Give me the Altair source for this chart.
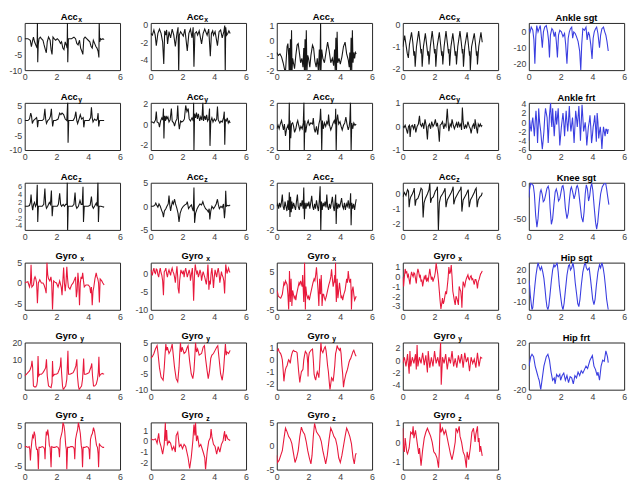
import altair as alt
import pandas as pd

# ---------------- data: (time s, value) ----------------
acc_x_1 = [(0,0),(0.2,0),(0.35,-0.5),(0.42,-2.5),(0.48,-1),(0.55,0.5),(0.62,-1),(0.7,-2),(0.78,-3),(0.8,5.5),(0.82,-7.5),(0.85,-2),(0.9,0),(0.98,0.5),(1.05,0),(1.15,-0.5),(1.22,-2),(1.3,-3.5),(1.36,-4.5),(1.42,-1),(1.5,0.5),(1.6,-0.5),(1.66,-3.5),(1.72,-5),(1.78,0.5),(1.85,0),(1.95,-0.5),(2.05,0),(2.15,-0.5),(2.25,-1.5),(2.32,-1),(2.4,-3),(2.47,-3.5),(2.55,-1),(2.62,-2),(2.67,-3),(2.69,5.5),(2.71,-7.5),(2.75,0),(2.85,0),(2.95,0),(3.1,0.5),(3.2,0),(3.28,-1.5),(3.36,-2),(3.45,-0.5),(3.52,-3),(3.6,-4),(3.66,-5),(3.72,0),(3.8,0.5),(3.9,0),(4.0,-0.5),(4.1,-1),(4.18,-2.5),(4.25,-3),(4.32,-0.5),(4.4,-1.5),(4.48,-2.5),(4.55,-3),(4.62,-4),(4.67,-6),(4.69,5.5),(4.72,-1),(4.78,0),(4.85,-0.3),(4.92,0),(5.0,-0.3)]
acc_x_2 = [(0,-1),(0.1,-1.2),(0.2,-0.6),(0.28,-1.2),(0.35,-2.4),(0.45,-1),(0.55,-0.5),(0.65,-1),(0.75,-2),(0.82,-4.5),(0.88,-0.7),(0.95,-1.2),(1.0,-0.6),(1.06,-2.2),(1.15,-0.8),(1.25,-1.5),(1.35,-0.5),(1.45,-1.2),(1.55,-2.5),(1.65,-1),(1.72,-0.3),(1.76,-5.5),(1.8,-1.2),(1.88,-0.8),(1.95,-1),(2.05,-1.3),(2.15,-0.5),(2.3,-3),(2.4,-1),(2.5,-0.5),(2.6,-1.5),(2.67,-0.3),(2.72,-4.8),(2.78,-1),(2.88,-0.8),(2.95,-1.2),(3.05,-0.7),(3.2,-2.2),(3.3,-1),(3.4,-0.5),(3.55,-1.2),(3.65,-0.5),(3.75,-3.6),(3.82,-1),(3.9,-0.7),(3.95,-1.2),(4.05,-0.8),(4.2,-2.4),(4.3,-0.8),(4.4,-0.6),(4.5,-1.5),(4.6,-0.8),(4.66,-0.1),(4.69,-5.5),(4.72,-0.3),(4.78,-1.2),(4.85,-1),(4.92,-0.7),(5.0,-1)]
acc_x_3 = [(0,-0.8),(0.1,-1),(0.2,-0.9),(0.3,-1.1),(0.4,-1.5),(0.5,-2),(0.55,-2.1),(0.6,-1.2),(0.65,-0.4),(0.7,-0.2),(0.75,-1),(0.78,-2.1),(0.8,-0.5),(0.83,-2.1),(0.86,0.1),(0.9,-2.1),(0.93,0.7),(0.96,-2.1),(1.0,-1.2),(1.05,-1.5),(1.12,-1.9),(1.2,-1.0),(1.28,-0.3),(1.35,-0.2),(1.42,-0.8),(1.5,-1.5),(1.58,-1.2),(1.65,-1.8),(1.7,-0.5),(1.74,-2.1),(1.78,0.1),(1.82,-2.1),(1.86,0.7),(1.9,-2.1),(1.95,-1),(2.0,-1.2),(2.08,-1.8),(2.15,-1),(2.25,-0.3),(2.32,-0.5),(2.4,-1.4),(2.48,-1.8),(2.55,-1.2),(2.62,-2.1),(2.68,-0.6),(2.72,-2.1),(2.76,1.3),(2.78,-2.1),(2.83,-0.6),(2.9,-1.2),(3.0,-1.5),(3.1,-0.8),(3.2,-0.1),(3.3,-0.7),(3.4,-1.5),(3.5,-1.2),(3.58,-1.7),(3.64,-0.6),(3.68,-2.1),(3.72,0.2),(3.76,-2.1),(3.8,0.6),(3.84,-1.5),(3.92,-1.2),(4.0,-1.6),(4.1,-1.1),(4.2,-0.4),(4.3,-0.1),(4.4,-0.9),(4.5,-1.3),(4.56,-1.8),(4.6,-0.8),(4.64,-2.1),(4.68,0.2),(4.72,-2.1),(4.76,0.7),(4.8,-1.5),(4.85,-0.8),(4.9,-1.2),(4.95,-0.8),(5.0,-0.9)]
acc_x_4 = [(0,-1),(0.12,-0.5),(0.2,-0.9),(0.28,-1.3),(0.35,-1.5),(0.42,-0.9),(0.55,-0.35),(0.63,-0.8),(0.7,-1.4),(0.74,-1.2),(0.78,-1.9),(0.86,-1.0),(1.0,-0.3),(1.08,-0.8),(1.15,-1.3),(1.18,-1.1),(1.22,-1.9),(1.3,-1.0),(1.42,-0.4),(1.5,-0.9),(1.58,-1.4),(1.61,-1.2),(1.65,-1.8),(1.73,-1.0),(1.85,-0.3),(1.93,-0.8),(2.0,-1.3),(2.04,-1.1),(2.08,-1.9),(2.16,-1.0),(2.3,-0.35),(2.38,-0.9),(2.45,-1.4),(2.48,-1.2),(2.52,-1.8),(2.6,-1.0),(2.72,-0.3),(2.8,-0.8),(2.88,-1.3),(2.91,-1.1),(2.95,-1.85),(3.03,-1.0),(3.15,-0.4),(3.23,-0.9),(3.3,-1.4),(3.34,-1.2),(3.38,-1.8),(3.46,-1.0),(3.6,-0.3),(3.68,-0.8),(3.75,-1.3),(3.78,-1.1),(3.82,-1.9),(3.9,-1.0),(4.05,-0.35),(4.13,-0.9),(4.2,-1.4),(4.22,-1.2),(4.25,-2.05),(4.33,-1.0),(4.5,-0.4),(4.58,-0.9),(4.64,-1.4),(4.67,-1.2),(4.7,-1.8),(4.78,-1.0),(4.92,-0.35),(5.0,-0.8)]
ankle_sgt = [(0,2),(0.08,0),(0.15,3),(0.25,1),(0.32,-5),(0.38,-20),(0.44,-3),(0.5,4),(0.58,0),(0.65,2),(0.72,4),(0.78,-2),(0.85,-10),(0.92,0),(1.0,3),(1.1,4),(1.18,0),(1.24,-5),(1.3,-16),(1.36,-2),(1.45,2),(1.52,1),(1.6,-3),(1.67,0),(1.73,-6),(1.8,-16),(1.87,-2),(1.95,1),(2.05,0),(2.15,-3),(2.25,-1),(2.32,-8),(2.4,-20),(2.48,-4),(2.55,0),(2.62,2),(2.7,3),(2.76,-4),(2.83,0),(2.92,-1),(3.0,-3),(3.1,-6),(3.2,-12),(3.27,-24),(3.33,-8),(3.4,2),(3.5,1),(3.6,3),(3.67,-5),(3.75,0),(3.82,-2),(3.9,-8),(3.98,-17),(4.05,-4),(4.12,0),(4.2,2),(4.27,3),(4.35,-1),(4.45,-10),(4.52,-2),(4.6,2),(4.7,3),(4.78,0),(4.85,-2),(4.92,-6),(5.0,-12)]

acc_y_1 = [(0,0),(0.2,0),(0.3,0.5),(0.38,2.5),(0.43,1.5),(0.48,-1),(0.55,0),(0.65,0.5),(0.75,1),(0.78,0),(0.81,-2.3),(0.86,0),(0.95,0),(1.1,0),(1.2,0.5),(1.27,4),(1.32,0.5),(1.37,-1),(1.45,0),(1.55,0.5),(1.62,1.5),(1.68,4),(1.72,0.5),(1.76,-2),(1.82,0),(1.95,0),(2.1,0.5),(2.2,2.5),(2.28,2),(2.35,2.5),(2.45,2),(2.55,0.5),(2.65,0),(2.71,7),(2.73,-7.5),(2.77,0),(2.9,0),(3.05,0),(3.15,1),(3.22,3),(3.28,0),(3.33,-1),(3.42,0.5),(3.5,2),(3.58,0.5),(3.68,1),(3.72,-2.3),(3.78,0),(3.9,0),(4.05,0),(4.15,1),(4.2,4.5),(4.25,1),(4.3,-0.5),(4.4,0.5),(4.5,0),(4.57,0.5),(4.62,2.5),(4.66,-2),(4.72,0),(4.85,0),(5.0,0)]
acc_y_2 = [(0,0.2),(0.1,0.2),(0.2,0.1),(0.3,0.4),(0.35,1.2),(0.4,0.2),(0.5,0.1),(0.55,-0.3),(0.62,0.3),(0.7,0.6),(0.76,0.4),(0.8,1.5),(0.83,-1.4),(0.87,0.8),(0.92,0.3),(0.97,0.8),(1.02,0.5),(1.08,0.7),(1.15,0.2),(1.22,0.4),(1.3,1.5),(1.35,0.3),(1.45,0.1),(1.5,-0.2),(1.58,0.3),(1.65,0.5),(1.7,1.8),(1.75,0.2),(1.8,-0.5),(1.88,0.3),(1.95,0.2),(2.05,0.3),(2.12,0.5),(2.2,1.8),(2.28,1.2),(2.36,1.5),(2.42,0.5),(2.5,0.3),(2.6,0.6),(2.68,0.3),(2.7,2.1),(2.72,-2.6),(2.76,1.0),(2.82,0.6),(2.88,1.1),(2.94,0.5),(3.0,1.0),(3.08,0.3),(3.15,0.7),(3.22,0.4),(3.28,2.1),(3.32,0.3),(3.4,0.8),(3.46,0.4),(3.52,0.9),(3.58,0.3),(3.65,0.5),(3.7,1.5),(3.73,-2.1),(3.78,0.3),(3.85,0.6),(3.92,0.2),(4.0,0.5),(4.08,0.3),(4.15,0.5),(4.2,1.7),(4.25,0.4),(4.35,0.1),(4.42,0.3),(4.5,0.2),(4.58,0.6),(4.63,1.2),(4.66,-2.0),(4.7,0.4),(4.76,0.3),(4.82,0.6),(4.88,0.1),(4.94,0.3),(5.0,0.1)]
acc_y_3 = [(0,-0.2),(0.08,0.1),(0.15,-0.2),(0.22,0.2),(0.3,0.5),(0.36,0.1),(0.42,-0.3),(0.48,0.2),(0.55,-0.8),(0.62,-0.2),(0.7,0.1),(0.76,-0.3),(0.79,2.1),(0.81,-2.1),(0.84,0.5),(0.88,-1),(0.93,0.2),(1.0,0.3),(1.06,0),(1.12,-0.5),(1.2,-0.2),(1.27,0.3),(1.32,0.5),(1.38,0.1),(1.45,-0.3),(1.52,0),(1.6,-0.2),(1.67,0.3),(1.71,2.1),(1.73,-2.1),(1.77,0.5),(1.82,-0.5),(1.9,0.2),(1.98,0.5),(2.05,0.1),(2.15,0.3),(2.25,0.2),(2.3,0.7),(2.36,-0.2),(2.42,-0.5),(2.5,0),(2.58,-0.7),(2.65,0.2),(2.72,0.6),(2.76,1.5),(2.8,0.2),(2.83,-2.1),(2.87,0.5),(2.93,-0.2),(3.0,0.3),(3.08,0),(3.15,0.4),(3.22,0.2),(3.26,1.0),(3.32,0.1),(3.4,-0.3),(3.48,0),(3.55,0.3),(3.62,0.5),(3.68,0.2),(3.71,1.5),(3.74,-2.1),(3.78,0.5),(3.83,1.0),(3.9,0.2),(3.98,0.4),(4.05,0),(4.12,-0.3),(4.2,0.1),(4.28,0.3),(4.35,0.8),(4.42,0.2),(4.5,-0.3),(4.56,0),(4.6,0.5),(4.64,2.1),(4.68,-2.1),(4.72,0.3),(4.78,-0.2),(4.85,0.3),(4.92,0.1),(5.0,0.2)]
acc_y_4 = [(0,0),(0.08,-0.05),(0.15,0.05),(0.22,-0.1),(0.3,-0.3),(0.36,0),(0.42,0.05),(0.46,-0.45),(0.52,0),(0.6,0.05),(0.68,-0.1),(0.75,0.1),(0.82,-0.25),(0.9,0),(0.98,0.1),(1.05,0.45),(1.1,0.1),(1.18,0),(1.25,0.15),(1.32,-0.1),(1.4,0.3),(1.48,0),(1.55,-0.55),(1.6,0),(1.68,0.1),(1.75,-0.1),(1.82,0.2),(1.9,0),(1.98,0.1),(2.05,0.3),(2.12,0),(2.18,0.15),(2.25,-0.2),(2.3,-0.65),(2.35,0.05),(2.42,0.1),(2.5,0.2),(2.58,-0.1),(2.65,0.1),(2.72,0),(2.8,0.75),(2.85,0.2),(2.9,-0.2),(2.98,0.1),(3.05,0),(3.1,0.3),(3.18,0.05),(3.25,-0.1),(3.3,0),(3.38,0.15),(3.45,-0.05),(3.5,0.2),(3.58,0),(3.65,0.1),(3.7,-0.15),(3.75,0.8),(3.8,0.2),(3.88,-0.1),(3.95,0.05),(4.02,-0.05),(4.1,0.2),(4.18,0),(4.25,-0.1),(4.3,-0.3),(4.38,0),(4.45,0.1),(4.52,-0.1),(4.55,0.3),(4.62,0),(4.7,-0.3),(4.75,0.1),(4.82,0),(4.88,0.1),(4.94,0),(5.0,0.05)]
ankle_frt = [(0,-4),(0.05,0.5),(0.1,-1),(0.15,-2),(0.2,0),(0.25,1),(0.3,-1),(0.35,-3),(0.4,0),(0.45,2.5),(0.5,0),(0.55,-4.5),(0.6,0),(0.62,3),(0.68,0),(0.75,-2),(0.8,-4),(0.85,-5.8),(0.9,-4),(0.95,-2),(1.0,1),(1.05,3),(1.1,2),(1.15,1),(1.22,-4.5),(1.3,1.5),(1.37,4.2),(1.42,0),(1.45,-1),(1.5,3),(1.55,0),(1.6,-3),(1.65,0),(1.7,2.5),(1.75,-0.5),(1.8,1),(1.85,3),(1.9,-1),(1.95,-5),(2.0,-3),(2.05,-1),(2.1,0.5),(2.15,2),(2.2,0),(2.25,-3),(2.3,0),(2.35,2.5),(2.4,0),(2.45,-2),(2.5,0.5),(2.55,3.5),(2.6,0),(2.65,-2),(2.7,-0.5),(2.75,1),(2.8,-1.5),(2.85,-4.5),(2.9,-1),(2.95,2.5),(3.0,1),(3.05,-1),(3.1,1),(3.15,3.5),(3.2,0),(3.25,-4),(3.3,0),(3.35,3.8),(3.4,1),(3.45,-2),(3.5,-1),(3.55,0),(3.6,-2),(3.65,-5),(3.7,-3),(3.75,-1),(3.8,0),(3.85,1.5),(3.9,-1),(3.95,-4.5),(4.0,-3),(4.05,-1),(4.1,0),(4.15,1.5),(4.2,-1),(4.25,-4.2),(4.3,2),(4.35,0),(4.4,-3.5),(4.45,-2),(4.5,-1),(4.55,-3),(4.6,-5.8),(4.65,-3),(4.7,-1),(4.75,-2),(4.8,-3),(4.85,-1.5),(4.9,-1.5),(4.95,-2.5),(5.0,-1.5)]

acc_z_1 = [(0,1),(0.2,1),(0.3,1.2),(0.36,2),(0.4,4),(0.45,1.5),(0.5,0),(0.56,1.5),(0.62,2),(0.68,1),(0.74,1.5),(0.79,6.5),(0.82,-3),(0.86,1),(0.95,1),(1.1,1),(1.2,1.5),(1.27,5.5),(1.32,1.5),(1.37,0.5),(1.45,1),(1.55,2),(1.62,1.5),(1.68,5),(1.73,-1.5),(1.78,1),(1.9,1),(2.05,1),(2.12,1.5),(2.2,4.3),(2.26,1.5),(2.32,1),(2.42,1.5),(2.5,1),(2.58,1.5),(2.65,1.5),(2.68,7.5),(2.7,-5.5),(2.74,1),(2.85,1),(3.0,1),(3.1,1.5),(3.17,4.5),(3.22,1.2),(3.28,0.5),(3.38,1),(3.48,2.5),(3.55,1.5),(3.62,1.5),(3.67,6),(3.7,-3),(3.75,1),(3.88,1),(4.0,1),(4.12,1.3),(4.2,3.5),(4.26,1),(4.32,0.5),(4.42,1.2),(4.5,1.8),(4.56,1),(4.61,7.5),(4.64,-3),(4.68,1),(4.8,1),(4.9,0.9),(5.0,0.8)]
acc_z_2 = [(0,0),(0.15,0),(0.25,0.2),(0.32,0.7),(0.38,0.2),(0.45,-0.2),(0.52,0.5),(0.6,0),(0.68,-0.8),(0.76,-1.5),(0.8,-2.3),(0.86,-1),(0.95,-0.5),(1.02,0),(1.1,0.5),(1.15,2.3),(1.2,0.3),(1.25,-1),(1.3,0),(1.36,1),(1.42,0.5),(1.5,1.5),(1.56,0.5),(1.65,-0.5),(1.72,-1.5),(1.78,-3.3),(1.85,-1.5),(1.95,-0.5),(2.05,0),(2.15,0.3),(2.25,0.5),(2.3,1),(2.38,-0.5),(2.48,0),(2.56,0.3),(2.62,-0.5),(2.68,-1),(2.72,4),(2.76,-3.5),(2.82,-1.5),(2.92,-0.5),(3.0,0),(3.1,0.5),(3.2,0.3),(3.28,1),(3.35,0.2),(3.45,-0.5),(3.55,-0.8),(3.62,-1.2),(3.68,-0.5),(3.72,-2.8),(3.78,-1),(3.85,0),(3.95,-0.5),(4.05,0),(4.12,0.5),(4.2,1.5),(4.26,0.3),(4.32,-0.5),(4.42,0),(4.5,-0.3),(4.58,0.5),(4.64,-2.5),(4.68,-1),(4.72,3.3),(4.76,0),(4.85,0.2),(4.92,0.1),(5.0,0.3)]
acc_z_3 = [(0,0),(0.06,0.2),(0.12,-0.2),(0.18,0.3),(0.24,-0.1),(0.3,0.4),(0.35,1),(0.4,0),(0.46,-0.3),(0.52,0.4),(0.58,0),(0.64,-0.4),(0.7,0.5),(0.75,-0.3),(0.79,1.2),(0.83,-0.9),(0.87,0.8),(0.91,-0.5),(0.95,0.4),(1.0,-0.2),(1.06,0.3),(1.12,0),(1.18,-0.3),(1.24,0.4),(1.3,1),(1.35,0),(1.42,-0.3),(1.48,0.3),(1.54,0),(1.6,0.5),(1.66,-0.2),(1.7,1.6),(1.74,-1.1),(1.78,0.3),(1.84,-0.2),(1.9,0.3),(1.96,0),(2.02,0.4),(2.08,-0.2),(2.14,0.3),(2.2,0.9),(2.26,0),(2.32,-0.3),(2.38,0.2),(2.44,-0.2),(2.5,0.5),(2.56,0),(2.62,-0.4),(2.68,0.5),(2.73,1.7),(2.77,-2.1),(2.81,0.4),(2.86,-0.3),(2.92,0.3),(2.98,0),(3.04,0.4),(3.1,-0.1),(3.15,1),(3.2,0),(3.26,-0.3),(3.32,0.2),(3.38,-0.2),(3.44,0.3),(3.5,0.8),(3.56,0),(3.62,-0.4),(3.67,0.4),(3.71,1),(3.74,-1.5),(3.78,0.3),(3.84,-0.2),(3.9,0.2),(3.96,-0.1),(4.02,0.3),(4.08,0.7),(4.14,0),(4.2,-0.2),(4.26,0.3),(4.32,-0.3),(4.38,0.2),(4.44,0),(4.5,0.5),(4.56,-0.2),(4.62,0.4),(4.65,1.1),(4.68,-1.6),(4.72,0.3),(4.78,-0.2),(4.84,0.2),(4.9,-0.3),(4.95,0.2),(5.0,0.6)]
acc_z_4 = [(0,-0.2),(0.1,0.1),(0.2,-0.1),(0.3,0.3),(0.36,0.2),(0.4,-0.9),(0.45,-0.4),(0.5,-0.2),(0.6,0),(0.68,0.2),(0.72,0.4),(0.78,-0.8),(0.84,-0.4),(0.95,-0.3),(1.05,0),(1.15,0.4),(1.22,0.3),(1.28,-1.6),(1.34,-0.6),(1.42,-0.3),(1.55,0),(1.65,0.3),(1.7,0.75),(1.75,-0.6),(1.82,-0.3),(1.92,-0.2),(2.05,0.2),(2.12,0.3),(2.18,0.5),(2.24,-2.5),(2.3,-0.6),(2.38,-0.2),(2.5,0),(2.6,0.2),(2.66,0.4),(2.72,-0.9),(2.8,-0.4),(2.9,-0.2),(3.05,0.1),(3.12,0.3),(3.17,0.5),(3.21,-0.7),(3.3,-0.3),(3.4,-0.1),(3.55,0.2),(3.62,0.3),(3.67,0.5),(3.72,-1.2),(3.8,-0.4),(3.9,-0.2),(4.0,0),(4.08,0.2),(4.12,0.3),(4.18,-0.9),(4.26,-0.4),(4.36,-0.2),(4.5,0.1),(4.56,0.3),(4.62,0.4),(4.68,-0.9),(4.75,-0.4),(4.85,-0.2),(4.95,-0.1),(5.0,0.1)]
knee_sgt = [(0,-20),(0.05,-8),(0.12,0),(0.2,-1),(0.28,-3),(0.35,-15),(0.43,-45),(0.51,-62),(0.58,-50),(0.65,-28),(0.72,-12),(0.77,-9),(0.84,-15),(0.91,-26),(0.98,-24),(1.06,-16),(1.14,-7),(1.22,-4),(1.28,-10),(1.34,-35),(1.42,-58),(1.5,-50),(1.58,-30),(1.66,-12),(1.73,-8),(1.8,-14),(1.87,-25),(1.95,-22),(2.03,-12),(2.1,-4),(2.15,-3),(2.22,-12),(2.3,-35),(2.4,-50),(2.48,-42),(2.56,-22),(2.63,-8),(2.68,-5),(2.76,-12),(2.85,-22),(2.93,-15),(3.0,-5),(3.05,-3),(3.12,-8),(3.22,-28),(3.32,-48),(3.41,-55),(3.48,-40),(3.55,-15),(3.62,-2),(3.69,-8),(3.76,-25),(3.83,-18),(3.9,-5),(3.96,0),(4.03,-10),(4.12,-35),(4.2,-55),(4.27,-65),(4.34,-55),(4.42,-35),(4.52,-15),(4.62,-5),(4.72,-1),(4.8,0),(4.84,0),(4.9,-8),(4.96,-18),(5.04,-30)]

gyro_x_1 = [(0,0),(0.1,0.2),(0.2,0.3),(0.3,-1),(0.36,0),(0.4,4.5),(0.45,-1),(0.55,-0.5),(0.6,1),(0.65,1.5),(0.7,1),(0.75,0),(0.8,-5),(0.86,0),(0.95,0.8),(1.05,0),(1.15,0),(1.22,-0.5),(1.3,-1.5),(1.35,-2.5),(1.4,5),(1.45,2),(1.5,1),(1.58,0.5),(1.65,1.5),(1.7,0),(1.75,-6.6),(1.82,0.5),(1.9,0.2),(2.0,0),(2.1,-1),(2.2,0.5),(2.3,-1),(2.35,-3),(2.45,3.8),(2.5,0),(2.55,-2),(2.6,0),(2.65,4),(2.7,1),(2.75,-1),(2.85,-1.5),(2.95,-0.5),(3.05,0),(3.15,1),(3.2,1.5),(3.25,-3.5),(3.3,-2),(3.35,2.5),(3.4,0),(3.45,-5.5),(3.5,0),(3.55,1.5),(3.6,1),(3.65,2.5),(3.7,0.5),(3.75,-1),(3.85,-0.5),(4.0,-0.5),(4.1,-1),(4.15,-2.5),(4.2,-1),(4.25,-5.5),(4.3,-2),(4.35,-1),(4.42,1),(4.5,2.5),(4.55,1.5),(4.6,1),(4.65,0),(4.7,-4.8),(4.75,1),(4.85,0.5),(4.92,0),(5.0,-0.5)]
gyro_x_2 = [(0,1),(0.05,0.3),(0.1,-0.5),(0.15,0.8),(0.2,1.5),(0.25,0.3),(0.3,0),(0.35,1.2),(0.4,1),(0.45,-0.3),(0.5,-1),(0.55,0.5),(0.6,1.5),(0.65,0.2),(0.7,-0.5),(0.75,-2),(0.8,-6),(0.85,0.5),(0.9,0.8),(0.95,1.5),(1.0,0),(1.05,-1),(1.1,0.3),(1.15,1),(1.2,0.2),(1.25,-0.5),(1.3,0.8),(1.35,1.5),(1.4,0.5),(1.45,0),(1.5,-1),(1.55,-2.5),(1.6,0),(1.65,2),(1.7,-1),(1.72,-4),(1.78,-5.5),(1.82,-2),(1.9,1),(1.95,0.3),(2.0,0),(2.05,0.8),(2.1,-1),(2.15,0.5),(2.2,1.5),(2.25,0.3),(2.3,-1),(2.36,0),(2.42,1),(2.47,0),(2.5,-2),(2.55,-0.5),(2.62,1.5),(2.66,-2),(2.7,-7.5),(2.75,-1),(2.8,2.5),(2.85,1),(2.9,0),(2.95,0.5),(3.0,-1),(3.05,-0.2),(3.1,1),(3.15,0.2),(3.2,-2),(3.25,-0.5),(3.3,0.5),(3.35,-0.3),(3.4,-1),(3.45,-2),(3.5,-3),(3.55,-1),(3.6,2.5),(3.63,0),(3.66,-4.5),(3.7,-2),(3.75,-3),(3.8,0),(3.85,1.5),(3.9,-1),(3.95,-4),(4.0,-1),(4.05,1),(4.1,0),(4.15,-1),(4.2,0.5),(4.25,1.5),(4.3,0),(4.35,-2.5),(4.4,-1),(4.45,0.5),(4.5,-0.5),(4.55,-1),(4.6,-2),(4.65,-5.5),(4.7,0),(4.72,2.5),(4.77,1),(4.8,0),(4.85,0.8),(4.9,1.5),(4.95,0.5),(5.0,0.3)]
gyro_x_3 = [(0,0),(0.05,-0.5),(0.1,-1.5),(0.18,-1.8),(0.25,-2),(0.3,-1.5),(0.35,-1),(0.4,0.5),(0.45,2),(0.5,1.5),(0.55,2.5),(0.6,2),(0.65,1.5),(0.7,-1),(0.75,-5),(0.78,0),(0.8,5),(0.83,1),(0.85,-3),(0.88,0),(0.9,3),(0.93,0),(0.95,-4),(1.0,0),(1.05,-1),(1.1,-2),(1.15,-1.5),(1.2,-2.5),(1.25,-1),(1.3,0),(1.35,1),(1.4,2),(1.45,1.5),(1.5,2.5),(1.55,1.8),(1.6,1),(1.63,4),(1.67,0),(1.7,-3),(1.73,2),(1.75,7.2),(1.78,0),(1.8,-5),(1.83,1),(1.88,-1),(1.95,-2),(2.0,-1.5),(2.05,-2.5),(2.12,-1),(2.2,0.5),(2.28,2),(2.35,3),(2.4,2.5),(2.45,4),(2.5,6),(2.55,3),(2.6,0),(2.65,-4),(2.7,3),(2.73,0),(2.75,-1),(2.78,2),(2.8,4),(2.83,0),(2.85,-4),(2.9,-1),(2.95,-1),(3.0,-2),(3.05,-2.5),(3.12,-1.5),(3.2,0),(3.28,1.5),(3.35,2.5),(3.4,3.5),(3.45,5.5),(3.5,3),(3.55,1),(3.6,2),(3.65,4),(3.68,2),(3.7,7.2),(3.72,1),(3.75,-3),(3.78,0),(3.8,3),(3.83,0),(3.85,-2),(3.9,0),(3.95,2),(4.0,0),(4.05,-2),(4.1,-1.5),(4.15,-2.5),(4.22,-1),(4.3,0),(4.35,1.5),(4.4,3),(4.45,2),(4.5,5),(4.55,3),(4.6,2),(4.65,3),(4.68,0),(4.7,-5),(4.75,0),(4.8,1),(4.85,-1),(4.9,-2.5),(4.95,-2),(5.0,-1.5)]
gyro_x_4 = [(0,0),(0.05,-1),(0.1,0),(0.15,0.8),(0.2,0.4),(0.25,0.5),(0.3,0),(0.35,0.2),(0.4,-0.3),(0.45,-0.8),(0.5,0),(0.55,0.5),(0.6,0.2),(0.65,0),(0.7,0.4),(0.75,0.3),(0.8,-0.2),(0.85,-0.7),(0.9,0.3),(0.95,0.8),(1.0,0.5),(1.05,0),(1.1,0.2),(1.15,-0.5),(1.2,-0.3),(1.25,-1),(1.3,-0.5),(1.35,0),(1.4,-0.2),(1.45,0.2),(1.5,-0.5),(1.55,-0.2),(1.6,-0.4),(1.65,0.2),(1.7,0.8),(1.75,0.2),(1.8,-0.3),(1.85,0),(1.9,-0.5),(1.95,-0.2),(2.0,0),(2.05,0.5),(2.1,1.4),(2.15,0.8),(2.2,0.3),(2.25,-0.5),(2.3,-1.5),(2.35,-2.5),(2.4,-3.3),(2.45,-2.8),(2.5,-2.2),(2.55,-2.8),(2.6,-2.5),(2.65,-2),(2.7,-1.5),(2.75,-1.8),(2.8,-1),(2.85,-0.2),(2.9,1),(2.95,0.3),(3.0,0.5),(3.05,1.2),(3.1,0),(3.15,-1.5),(3.2,-2),(3.25,-2.5),(3.3,-2.9),(3.35,-2),(3.4,-2.2),(3.45,-2.5),(3.5,-2.9),(3.55,-1),(3.6,-1.3),(3.65,-1.5),(3.7,-2.5),(3.72,-3.2),(3.76,-1.5),(3.8,-0.5),(3.85,-0.8),(3.9,-1),(3.95,-0.5),(4.0,-0.2),(4.05,0),(4.1,0.2),(4.15,-0.2),(4.2,-0.3),(4.25,0),(4.3,0.1),(4.35,-0.3),(4.4,-0.2),(4.45,-0.5),(4.5,-0.8),(4.55,-0.3),(4.6,-0.3),(4.65,-0.6),(4.7,-1.2),(4.75,-0.5),(4.8,-0.3),(4.85,0),(4.9,0.3),(4.95,0.4),(5.0,0.6)]
hip_sgt = [(0,10),(0.05,5),(0.1,-5),(0.15,-12),(0.2,-18),(0.25,-16),(0.3,-8),(0.38,5),(0.45,15),(0.52,22),(0.58,27),(0.65,23),(0.72,20),(0.8,23),(0.88,18),(0.95,12),(1.02,2),(1.08,-8),(1.14,-15),(1.2,-18),(1.26,-14),(1.33,-4),(1.42,10),(1.5,20),(1.58,25),(1.64,23),(1.72,25),(1.78,27),(1.85,18),(1.92,5),(2.0,-5),(2.08,-14),(2.15,-18),(2.22,-12),(2.3,0),(2.4,15),(2.5,24),(2.56,25),(2.62,20),(2.7,22),(2.78,27),(2.85,20),(2.92,8),(3.0,-2),(3.08,-12),(3.15,-15),(3.22,-8),(3.3,5),(3.4,18),(3.5,25),(3.56,27),(3.62,22),(3.7,20),(3.8,22),(3.88,12),(3.95,2),(4.02,-8),(4.1,-13),(4.17,-8),(4.25,5),(4.35,18),(4.45,25),(4.52,22),(4.6,27),(4.68,22),(4.75,15),(4.82,5),(4.9,-8),(5.0,-18)]

gyro_y_1 = [(0,0),(0.1,1),(0.2,2),(0.3,3),(0.35,4),(0.42,6),(0.46,9),(0.5,5),(0.55,-6),(0.62,-6.5),(0.7,-6.5),(0.76,-5.5),(0.8,-3),(0.84,12),(0.88,0),(0.95,1),(1.05,1),(1.15,2),(1.25,3.5),(1.32,5),(1.37,10),(1.42,0),(1.5,-6),(1.58,-6.5),(1.66,-7),(1.72,-4),(1.75,9),(1.79,0),(1.88,1),(1.98,1),(2.08,1.5),(2.18,4),(2.24,6),(2.28,11),(2.32,2),(2.38,-6),(2.43,-8.2),(2.5,-7),(2.58,-6),(2.65,-2),(2.68,5),(2.72,15),(2.76,1),(2.85,1),(2.95,1.5),(3.05,2),(3.15,4),(3.22,6),(3.28,10),(3.32,0),(3.38,-6),(3.43,-8.2),(3.5,-7),(3.58,-6),(3.64,-2),(3.67,3),(3.71,10.5),(3.75,1),(3.85,1),(3.95,1.5),(4.05,2),(4.12,4),(4.18,5.5),(4.22,7.5),(4.27,0),(4.33,-6),(4.4,-6),(4.5,-5),(4.58,-2),(4.63,2),(4.67,11.5),(4.71,0),(4.78,1),(4.88,1.5),(4.95,1.2),(5.0,1.2)]
gyro_y_2 = [(0,0),(0.1,0.5),(0.2,1.5),(0.3,3),(0.4,4),(0.45,2),(0.55,-3),(0.65,-6),(0.78,-7),(0.85,-3),(0.9,1),(0.95,4.5),(1.0,2.5),(1.05,3.5),(1.15,1.5),(1.25,2.5),(1.35,4.5),(1.4,2),(1.5,-3),(1.6,-6.5),(1.7,-7.5),(1.78,-3),(1.82,1),(1.87,5),(1.92,2),(1.98,3.5),(2.1,1.5),(2.2,2),(2.3,3.5),(2.35,4),(2.45,-1),(2.55,-5),(2.65,-6.5),(2.72,-4),(2.78,1),(2.82,5),(2.88,2),(2.95,3),(3.05,1),(3.2,1.5),(3.3,3.5),(3.38,4),(3.45,0),(3.55,-4),(3.62,-6.5),(3.7,-4),(3.78,0),(3.85,1),(3.95,1.5),(4.05,2.5),(4.15,3.5),(4.22,4),(4.3,0),(4.4,-5),(4.5,-7),(4.58,-4),(4.65,1),(4.7,4.5),(4.75,1),(4.8,2),(4.9,1.5),(5.0,2.5)]
gyro_y_3 = [(0,0.7),(0.05,0.8),(0.1,0.9),(0.15,0.7),(0.2,0.6),(0.25,0.5),(0.3,0.3),(0.35,0),(0.4,-0.8),(0.45,-1.8),(0.5,-1.2),(0.55,-0.8),(0.6,-0.6),(0.65,-0.5),(0.7,-0.2),(0.75,0),(0.8,-0.1),(0.85,-0.3),(0.9,0.2),(0.95,0.5),(1.0,0.7),(1.05,0.8),(1.12,0.7),(1.2,0.7),(1.28,0.6),(1.33,-0.2),(1.38,-1),(1.45,-1.9),(1.5,-1.4),(1.55,-1),(1.6,-0.9),(1.65,-0.8),(1.7,0),(1.75,0.4),(1.8,0.7),(1.85,0.6),(1.9,0.5),(1.95,-0.3),(1.97,-1.4),(2.0,0.2),(2.05,0.6),(2.1,0.7),(2.15,0.8),(2.2,0.85),(2.25,0.9),(2.3,0),(2.35,-1.2),(2.4,-1.5),(2.45,-1.7),(2.5,-1.3),(2.55,-1),(2.6,-1.2),(2.65,-1.5),(2.7,-0.5),(2.74,0.5),(2.78,1.45),(2.82,0.8),(2.86,0.7),(2.9,0.6),(2.95,0.8),(3.0,1.0),(3.05,1.1),(3.1,0.8),(3.15,0.2),(3.2,-0.5),(3.25,-1),(3.3,-1.8),(3.35,-2.5),(3.4,-2),(3.45,-1.5),(3.5,-1.6),(3.55,-1.8),(3.6,-1.2),(3.65,-0.5),(3.7,0.5),(3.75,0.8),(3.8,1.2),(3.85,1.0),(3.9,0.9),(3.95,0.8),(4.0,1.0),(4.05,0.5),(4.1,-0.5),(4.15,-1.2),(4.2,-2.3),(4.25,-1.8),(4.3,-1.5),(4.35,-1.2),(4.4,-1.0),(4.45,-0.8),(4.5,-0.5),(4.55,-0.2),(4.6,0),(4.65,0.1),(4.7,0.3),(4.75,0.5),(4.8,0.7),(4.85,0.8),(4.9,0.6),(4.95,0.4),(5.0,0.3)]
gyro_y_4 = [(0,-0.5),(0.1,0.5),(0.2,-1),(0.3,1),(0.4,-2.2),(0.45,1.5),(0.5,-1),(0.6,0.5),(0.7,-0.5),(0.8,1),(0.85,-1.5),(0.9,2.5),(0.95,-1),(1.05,0.5),(1.15,-0.5),(1.25,1.2),(1.35,-0.8),(1.45,0.8),(1.55,-2),(1.6,1.5),(1.7,-1.2),(1.8,0.5),(1.9,-1),(2.0,1.5),(2.1,-0.5),(2.2,0.5),(2.3,-1),(2.38,2.9),(2.42,-4),(2.5,0.5),(2.6,-0.5),(2.7,1),(2.8,-1.5),(2.9,0.5),(3.0,-0.5),(3.1,1.5),(3.2,-1),(3.3,0.3),(3.4,-1.2),(3.5,0.8),(3.6,-0.5),(3.7,1),(3.8,-1.2),(3.9,1.2),(4.0,-0.3),(4.1,0.5),(4.2,-1.8),(4.3,0.5),(4.4,-0.5),(4.5,0.2),(4.6,-1.2),(4.7,1.2),(4.8,-1),(4.9,0.5),(5.0,0.3)]
hip_frt = [(0,0),(0.05,3),(0.12,8),(0.2,10),(0.3,8),(0.4,0),(0.5,-5),(0.6,-10),(0.65,-12),(0.75,-20),(0.85,-10),(0.95,0),(1.1,8),(1.2,10),(1.3,5),(1.4,-5),(1.5,-12),(1.6,-10),(1.65,-15),(1.75,-7),(1.85,-9),(1.95,-7),(2.0,-12),(2.1,-8),(2.2,-6),(2.3,-12),(2.4,-8),(2.5,-14),(2.6,-9),(2.7,-10),(2.8,-15),(2.9,-8),(3.0,-10),(3.1,-5),(3.2,-8),(3.3,-4),(3.4,-6),(3.5,-3),(3.6,0),(3.7,-2),(3.85,5),(4.0,9),(4.1,0),(4.2,-3),(4.3,-8),(4.35,-5),(4.45,-12),(4.55,0),(4.65,5),(4.75,4),(4.85,13),(4.95,8),(5.0,3)]

gyro_z_1 = [(0,-0.3),(0.1,-0.3),(0.2,-0.5),(0.28,-0.3),(0.32,-1),(0.36,-3.8),(0.4,-1),(0.45,1),(0.5,2.5),(0.55,2),(0.6,3.5),(0.65,2.5),(0.7,0),(0.75,-1),(0.8,-1),(0.83,-3),(0.86,-6.1),(0.9,-0.5),(1.0,-0.5),(1.1,-0.3),(1.2,-0.5),(1.25,-1),(1.28,-3.5),(1.32,1),(1.36,3.5),(1.4,2.5),(1.45,4),(1.5,2.5),(1.55,0),(1.6,-0.5),(1.63,-3),(1.66,-5.5),(1.7,-0.3),(1.8,-0.5),(1.9,-0.5),(2.0,-0.3),(2.1,-0.5),(2.15,-1),(2.19,-3),(2.24,1.5),(2.3,2.5),(2.36,3.5),(2.41,5.8),(2.47,5),(2.52,3.5),(2.58,0),(2.62,-1),(2.65,-6.1),(2.7,-0.5),(2.8,-0.5),(2.9,-0.3),(3.0,-0.3),(3.08,-0.5),(3.12,-1),(3.15,-3.5),(3.2,1.5),(3.27,3),(3.33,4),(3.38,5.8),(3.44,4.5),(3.5,3),(3.56,0),(3.6,-1),(3.64,-5.5),(3.68,-0.5),(3.78,-0.5),(3.9,-0.3),(4.0,-0.5),(4.05,-1),(4.09,-3.5),(4.14,1.5),(4.2,2.5),(4.26,3),(4.33,4.5),(4.4,3.5),(4.45,2),(4.52,0),(4.58,-0.5),(4.62,-2),(4.65,-5.5),(4.7,0.5),(4.75,0),(4.85,-0.3),(4.92,-0.5),(5.0,-0.5)]
gyro_z_2 = [(0,0.2),(0.15,0.1),(0.3,0.2),(0.4,-0.2),(0.5,0.7),(0.55,0),(0.65,-0.5),(0.75,-1.2),(0.85,-0.3),(0.92,1.7),(0.95,0),(1.0,1),(1.05,-0.3),(1.15,0),(1.25,-0.2),(1.35,-0.8),(1.45,-0.5),(1.55,-1),(1.6,0.5),(1.7,0.8),(1.8,-0.5),(1.9,-0.3),(2.0,-0.7),(2.1,-0.3),(2.2,-0.5),(2.35,-1.5),(2.45,-2.5),(2.55,-1.5),(2.65,0),(2.72,1.5),(2.78,0.5),(2.82,1.7),(2.88,0),(2.95,0.5),(3.05,-0.5),(3.15,-0.3),(3.3,-1),(3.4,-1.5),(3.45,-2.6),(3.55,-1),(3.65,0),(3.75,0.3),(3.8,1.1),(3.85,0.4),(3.95,-0.3),(4.05,-0.5),(4.15,-1.2),(4.25,-0.5),(4.35,-1),(4.45,-0.3),(4.55,0),(4.6,0.5),(4.65,0.9),(4.7,0),(4.75,0.6),(4.85,0.2),(4.95,0.1),(5.0,0.05)]
gyro_z_3 = [(0,-2),(0.05,-3.5),(0.15,-3),(0.25,-2),(0.35,-1),(0.45,1.5),(0.55,3.8),(0.65,3),(0.75,2),(0.85,1.5),(0.95,0.5),(1.05,-1.5),(1.15,-3.5),(1.25,-2.5),(1.35,-1),(1.45,2),(1.55,4),(1.65,3),(1.75,2.5),(1.85,1),(1.95,-1),(2.05,-2.5),(2.15,-3.8),(2.22,-2),(2.3,2),(2.38,4.8),(2.5,3),(2.6,2.5),(2.7,2),(2.8,1),(2.9,-1),(3.0,-2.5),(3.08,-3.8),(3.18,-2),(3.3,1.5),(3.4,3.8),(3.5,3),(3.6,2),(3.7,1.5),(3.8,0),(3.9,-2.5),(4.0,-3.5),(4.1,-2),(4.2,0),(4.3,2),(4.4,3.8),(4.5,3),(4.6,2),(4.7,0.5),(4.8,-2.5),(4.88,-3.8),(4.95,-2),(5.0,-1.5)]
gyro_z_4 = [(0,0.7),(0.05,-0.3),(0.1,-0.5),(0.15,0.2),(0.25,-0.5),(0.3,-0.6),(0.4,-0.3),(0.5,0.5),(0.6,0.4),(0.65,0.8),(0.7,0.2),(0.8,0.6),(0.9,0),(1.0,-0.6),(1.05,-0.3),(1.15,-1.2),(1.25,-0.4),(1.35,0.2),(1.45,0.5),(1.55,0.7),(1.65,0.5),(1.75,0.3),(1.85,0),(1.95,-0.5),(2.05,-0.6),(2.15,-0.8),(2.25,-1.3),(2.3,-0.5),(2.35,1),(2.4,0.5),(2.5,0.7),(2.6,0.4),(2.7,0.6),(2.8,0.2),(2.9,-0.2),(3.0,-0.6),(3.1,-0.9),(3.2,-0.5),(3.3,0),(3.35,0.7),(3.45,0.5),(3.55,0.8),(3.6,0.3),(3.7,0),(3.8,-0.5),(3.9,-0.7),(4.0,-1.3),(4.05,-0.5),(4.15,-0.9),(4.25,-0.3),(4.35,0.5),(4.45,0.7),(4.55,0),(4.6,0.4),(4.7,0.8),(4.75,0),(4.8,0.2),(4.85,-0.5),(4.9,-0.2),(5.0,-0.7)]

ydom = {
    "acc_x_1": [-10, 5], "acc_x_2": [-5.2, 0.2], "acc_x_3": [-2, 1.2], "acc_x_4": [-2.05, 0.07], "ankle_sgt": [-24, 5.6],
    "acc_y_1": [-10, 6], "acc_y_2": [-2.5, 2.05], "acc_y_3": [-2, 2], "acc_y_4": [-1, 1], "ankle_frt": [-6, 4.2],
    "acc_z_1": [-5, 7], "acc_z_2": [-5, 5], "acc_z_3": [-2, 2], "acc_z_4": [-2.45, 0.77], "knee_sgt": [-66, 1],
    "gyro_x_1": [-6.6, 5], "gyro_x_2": [-10, 3], "gyro_x_3": [-5, 7.2], "gyro_x_4": [-3.4, 1.45], "hip_sgt": [-18, 27],
    "gyro_y_1": [-8.2, 20], "gyro_y_2": [-10, 5], "gyro_y_3": [-2.5, 1.45], "gyro_y_4": [-4.8, 2.9], "hip_frt": [-20, 20],
    "gyro_z_1": [-6.1, 5.8], "gyro_z_2": [-2.6, 1.7], "gyro_z_3": [-5, 5], "gyro_z_4": [-1.4, 1],
}
yticks = {
    "acc_x_1": [0, -5, -10], "acc_x_2": [0, -2, -4], "acc_x_3": [1, 0, -1, -2], "acc_x_4": [0, -1, -2], "ankle_sgt": [0, -10, -20],
    "acc_y_1": [5, 0, -5, -10], "acc_y_2": [2, 0, -2], "acc_y_3": [2, 0, -2], "acc_y_4": [1, 0, -1], "ankle_frt": [4, 2, 0, -2, -4, -6],
    "acc_z_1": [6, 4, 2, 0, -2, -4], "acc_z_2": [5, 0, -5], "acc_z_3": [2, 0, -2], "acc_z_4": [0, -1, -2], "knee_sgt": [0, -50],
    "gyro_x_1": [5, 0, -5], "gyro_x_2": [0, -5, -10], "gyro_x_3": [5, 0, -5], "gyro_x_4": [1, 0, -1, -2, -3], "hip_sgt": [20, 10, 0, -10],
    "gyro_y_1": [20, 10, 0], "gyro_y_2": [5, 0, -5, -10], "gyro_y_3": [1, 0, -1, -2], "gyro_y_4": [2, 0, -2, -4], "hip_frt": [20, 0, -20],
    "gyro_z_1": [5, 0, -5], "gyro_z_2": [1, 0, -1, -2], "gyro_z_3": [5, 0, -5], "gyro_z_4": [1, 0, -1],
}
xticks = [0, 2, 4, 6]

W, H = 97, 48
FONT = "Liberation Sans"
BLACK, RED, BLUE = "#161616", "#e8193c", "#3a3ee0"


def panel(data, key, color, main, sub=None):
    df = pd.DataFrame(data, columns=["t", "v"])
    lo, hi = ydom[key]
    tk = yticks[key]
    gap = H * abs(tk[0] - tk[1]) / (hi - lo)
    lfs = 9 if gap >= 10 else round(gap * 0.95, 1)
    line = alt.Chart(df).mark_line(color=color, strokeWidth=1.1, clip=True).encode(
        x=alt.X("t:Q", scale=alt.Scale(domain=[0, 6], nice=False, zero=False),
                axis=alt.Axis(values=xticks, title=None, labelExpr="'' + datum.value")),
        y=alt.Y("v:Q", scale=alt.Scale(domain=[lo, hi], nice=False, zero=False),
                axis=alt.Axis(values=tk, title=None, labelFontSize=lfs, labelExpr="'' + datum.value")),
    )
    layers = [line]
    if sub is None:
        tdf = pd.DataFrame({"label": [main]})
        layers.append(alt.Chart(tdf).mark_text(font=FONT, fontSize=9.5, fontWeight="bold",
                                               align="center", color="#000").encode(
            x=alt.value(W / 2), y=alt.value(-5), text="label:N"))
    else:
        is_acc = main == "Acc"
        mdf = pd.DataFrame({"label": [main]})
        sdf = pd.DataFrame({"label": [sub]})
        layers.append(alt.Chart(mdf).mark_text(font=FONT, fontSize=9.5, fontWeight="bold",
                                               align="right", color="#000").encode(
            x=alt.value(W / 2 + (5.5 if is_acc else 5)), y=alt.value(-5.5 if is_acc else -7), text="label:N"))
        layers.append(alt.Chart(sdf).mark_text(font=FONT, fontSize=7, fontWeight="bold",
                                               align="left", color="#000").encode(
            x=alt.value(W / 2 + (6 if is_acc else 8)), y=alt.value(-2.5 if is_acc else -3.5), text="label:N"))
    return alt.layer(*layers).properties(width=W, height=H)


panels = [
    panel(acc_x_1, "acc_x_1", BLACK, "Acc", "x"), panel(acc_x_2, "acc_x_2", BLACK, "Acc", "x"),
    panel(acc_x_3, "acc_x_3", BLACK, "Acc", "x"), panel(acc_x_4, "acc_x_4", BLACK, "Acc", "x"),
    panel(ankle_sgt, "ankle_sgt", BLUE, "Ankle sgt"),
    panel(acc_y_1, "acc_y_1", BLACK, "Acc", "y"), panel(acc_y_2, "acc_y_2", BLACK, "Acc", "y"),
    panel(acc_y_3, "acc_y_3", BLACK, "Acc", "y"), panel(acc_y_4, "acc_y_4", BLACK, "Acc", "y"),
    panel(ankle_frt, "ankle_frt", BLUE, "Ankle frt"),
    panel(acc_z_1, "acc_z_1", BLACK, "Acc", "z"), panel(acc_z_2, "acc_z_2", BLACK, "Acc", "z"),
    panel(acc_z_3, "acc_z_3", BLACK, "Acc", "z"), panel(acc_z_4, "acc_z_4", BLACK, "Acc", "z"),
    panel(knee_sgt, "knee_sgt", BLUE, "Knee sgt"),
    panel(gyro_x_1, "gyro_x_1", RED, "Gyro", "x"), panel(gyro_x_2, "gyro_x_2", RED, "Gyro", "x"),
    panel(gyro_x_3, "gyro_x_3", RED, "Gyro", "x"), panel(gyro_x_4, "gyro_x_4", RED, "Gyro", "x"),
    panel(hip_sgt, "hip_sgt", BLUE, "Hip sgt"),
    panel(gyro_y_1, "gyro_y_1", RED, "Gyro", "y"), panel(gyro_y_2, "gyro_y_2", RED, "Gyro", "y"),
    panel(gyro_y_3, "gyro_y_3", RED, "Gyro", "y"), panel(gyro_y_4, "gyro_y_4", RED, "Gyro", "y"),
    panel(hip_frt, "hip_frt", BLUE, "Hip frt"),
    panel(gyro_z_1, "gyro_z_1", RED, "Gyro", "z"), panel(gyro_z_2, "gyro_z_2", RED, "Gyro", "z"),
    panel(gyro_z_3, "gyro_z_3", RED, "Gyro", "z"), panel(gyro_z_4, "gyro_z_4", RED, "Gyro", "z"),
]

chart = alt.concat(*panels, columns=5, spacing={"row": 33.3, "column": 31.25}, bounds="flush").properties(
    padding={"left": 0, "top": 0, "right": 4, "bottom": 0}
).configure_view(
    stroke="#262626", strokeWidth=1
).configure_axis(
    grid=False, domain=False, ticks=False, labelFont=FONT, labelFontSize=9,
    labelColor="#404040", labelPadding=3, labelFlush=False, labelOverlap=False
)

chart.save("out.html", embed_options={"renderer": "svg", "actions": False})
